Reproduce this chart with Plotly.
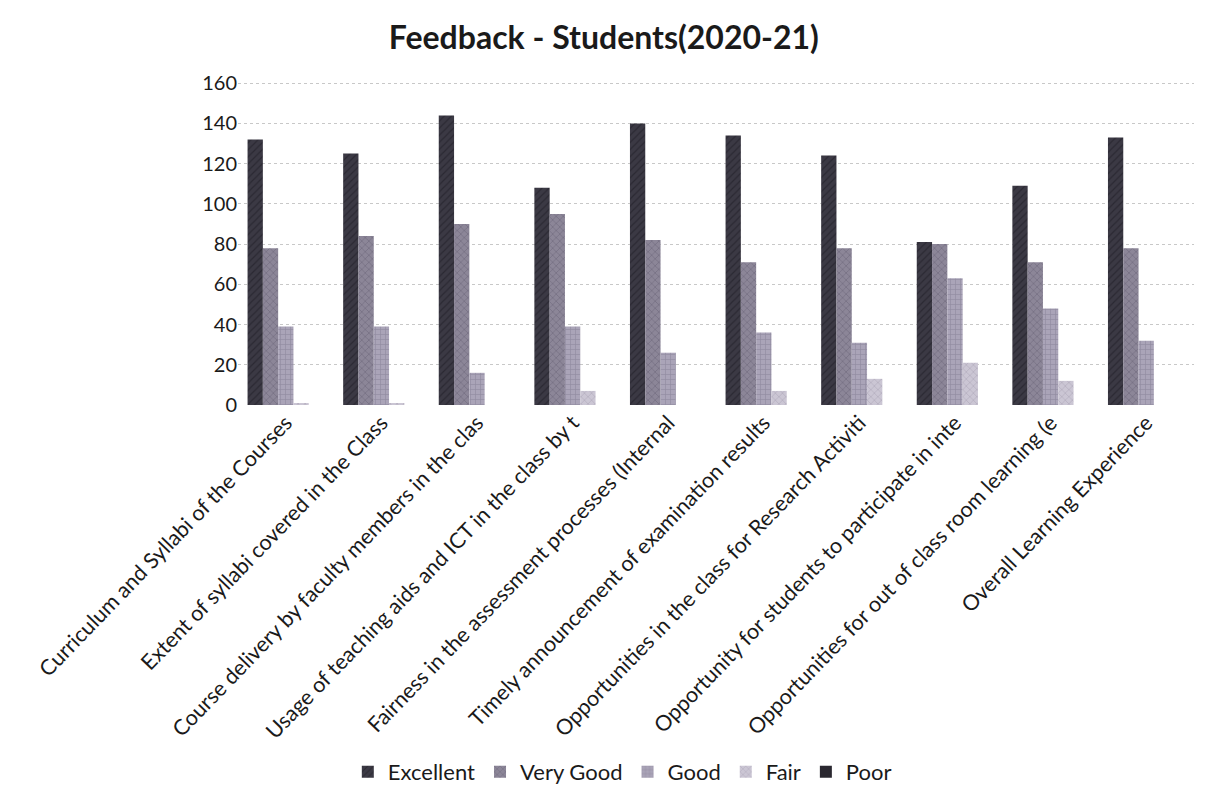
import plotly.graph_objects as go

categories = [
    "Curriculum and Syllabi of the Courses",
    "Extent of syllabi covered in the Class",
    "Course delivery by faculty members in the clas",
    "Usage of teaching aids and ICT in the class by t",
    "Fairness in the assessment processes (Internal",
    "Timely announcement of examination results",
    "Opportunities in the class for Research Activiti",
    "Opportunity for students to participate in inte",
    "Opportunities for out of class room learning (e",
    "Overall Learning Experience",
]
excellent = [132, 125, 144, 108, 140, 134, 124, 81, 109, 133]
very_good = [78, 84, 90, 95, 82, 71, 78, 80, 71, 78]
good = [39, 39, 16, 39, 26, 36, 31, 63, 48, 32]
fair = [1, 1, 0, 7, 0, 7, 13, 21, 12, 0]
poor = [0, 0, 0, 0, 0, 0, 0, 0, 0, 0]

series = [
    ("Excellent", excellent, "#3b3944", "/", "#1c1a22"),
    ("Very Good", very_good, "#8c8698", "x", "#5a5468"),
    ("Good", good, "#aaa4b8", "+", "#7a7488"),
    ("Fair", fair, "#cbc6d4", "x", "#9a94a8"),
    ("Poor", poor, "#2a2830", "", "#2a2830"),
]

fig = go.Figure()
for name, vals, col, pat, fg in series:
    fig.add_trace(go.Bar(
        name=name, x=categories, y=vals,
        marker=dict(color=col, line=dict(width=0),
                    pattern=dict(shape=pat, fgcolor=fg, size=5, solidity=0.25)),
    ))

font = "Lato, 'Open Sans', sans-serif"
fig.update_layout(
    width=1216, height=800,
    paper_bgcolor="white", plot_bgcolor="white",
    barmode="group", bargap=0.2, bargroupgap=0,
    title=dict(text="<b>Feedback - Students(2020-21)</b>", x=0.49, xanchor="center",
               y=0.9625, yanchor="middle", font=dict(family=font, size=32, color="#1a1a1a")),
    margin=dict(l=230, r=30, t=74, b=403, autoexpand=False),
    font=dict(family=font, color="#1a1a1a"),
    legend=dict(orientation="h", x=0.402, xanchor="center", y=-1.136, yanchor="middle",
                font=dict(family=font, size=22, color="#1a1a1a"), traceorder="normal",
                itemwidth=30),
    showlegend=True,
)
fig.update_yaxes(range=[0, 160.6], tickvals=[0, 20, 40, 60, 80, 100, 120, 140, 160],
                 showgrid=True, gridcolor="#c8c8c8", griddash="dot",
                 tickfont=dict(family=font, size=20, color="#1a1a1a"), zeroline=False,
                 ticks="", ticklen=0, showline=False, automargin=False)
fig.update_xaxes(tickangle=-46, tickfont=dict(family=font, size=21.5, color="#1a1a1a"),
                 showline=False, ticks="", automargin=False)
fig.write_html("out.html")
